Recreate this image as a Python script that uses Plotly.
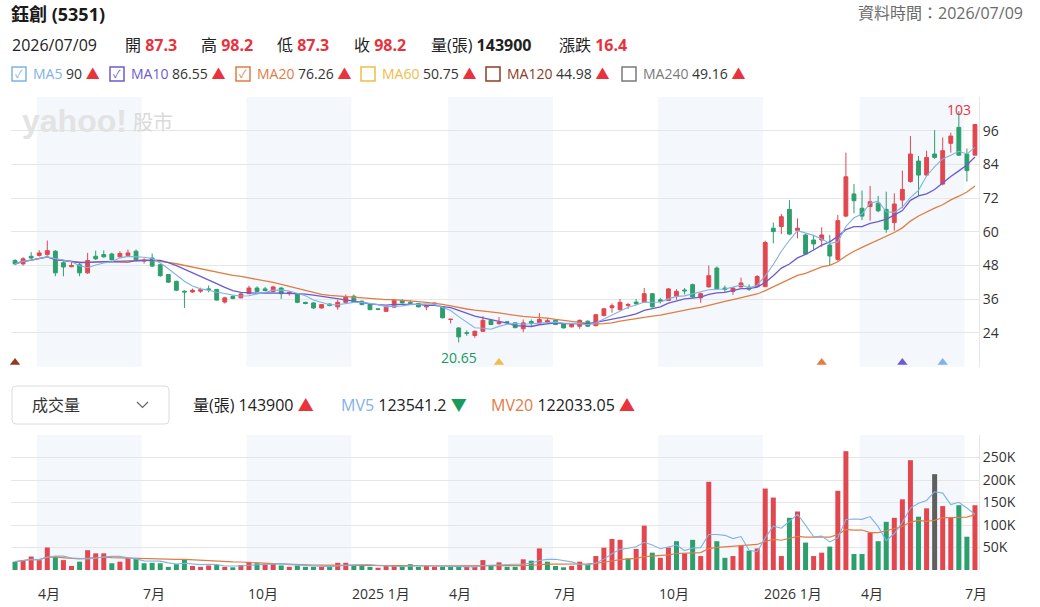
import pandas as pd
import plotly.graph_objects as go

# ---------------- data ----------------
week_end = pd.date_range("2024-03-15", "2026-07-10", freq="W-FRI")
market_closed_weeks = pd.to_datetime(["2025-01-31", "2026-02-20"])
week_end = week_end[~week_end.isin(market_closed_weeks)]

open_ = [49.8, 48.6, 51.3, 51.6, 51.9, 53.1, 49.0, 47.6, 48.3, 45.4,
         51.3, 51.9, 52.1, 51.1, 51.6, 53.1, 49.6, 50.7, 48.3, 44.8,
         42.4, 38.9, 38.6, 38.9, 39.7, 39.5, 35.0, 37.0, 36.5, 38.0,
         40.0, 39.7, 38.8, 40.0, 38.0, 38.0, 34.9, 34.7, 32.9, 34.3,
         33.3, 34.9, 37.1, 35.3, 34.1, 32.6, 31.7, 33.2, 35.5, 34.9,
         34.5, 33.3, 34.3, 33.3, 28.8, 25.8, 24.1, 23.1, 24.6, 28.5,
         27.3, 28.0, 27.6, 25.5, 28.1, 27.6, 27.8, 28.5, 27.3, 26.2,
         26.4, 28.2, 26.6, 30.2, 33.0, 32.3, 33.8, 35.0, 34.9, 38.0,
         35.8, 35.6, 37.1, 39.3, 41.2, 36.5, 40.4, 47.1, 40.0, 38.8,
         40.4, 40.3, 40.5, 40.5, 61.3, 61.9, 68.0, 60.5, 58.9, 57.1,
         57.1, 55.3, 50.2, 65.6, 73.5, 68.4, 69.0, 70.2, 68.0, 63.3,
         71.3, 77.9, 85.2, 80.2, 87.7, 77.0, 91.5, 97.2, 87.7, 87.3]
high = [50.3, 51.0, 52.8, 53.5, 56.9, 53.5, 49.5, 49.4, 49.2, 52.5,
        53.3, 53.4, 52.6, 53.1, 53.7, 53.7, 50.6, 52.3, 48.6, 45.0,
        42.6, 39.1, 39.8, 40.1, 40.9, 39.7, 36.9, 37.4, 38.2, 40.8,
        40.6, 40.4, 40.8, 40.3, 38.8, 38.2, 35.1, 35.0, 34.3, 34.6,
        35.8, 37.7, 37.7, 35.5, 34.3, 32.8, 33.4, 36.1, 36.1, 35.7,
        34.7, 33.9, 34.8, 33.5, 29.0, 26.0, 24.9, 24.9, 30.0, 28.8,
        29.7, 28.3, 27.8, 28.8, 28.8, 31.1, 29.4, 28.8, 27.5, 27.3,
        28.8, 28.5, 30.8, 32.9, 34.5, 36.1, 34.7, 36.1, 40.0, 38.2,
        36.5, 40.0, 39.6, 40.0, 41.6, 38.3, 48.0, 47.7, 40.9, 40.3,
        43.7, 41.3, 44.6, 56.9, 63.3, 66.4, 71.3, 64.8, 59.3, 58.5,
        61.6, 58.9, 66.0, 88.2, 77.0, 74.7, 76.3, 72.8, 74.3, 73.7,
        81.8, 94.1, 87.0, 88.9, 96.2, 93.6, 95.3, 103.0, 89.7, 98.2]
low = [48.2, 48.0, 50.3, 51.2, 51.5, 44.2, 44.2, 47.4, 44.2, 45.0,
       50.0, 50.8, 49.8, 50.9, 51.3, 49.9, 48.7, 47.5, 44.0, 41.8,
       38.9, 32.9, 38.3, 38.3, 38.5, 35.5, 34.5, 36.0, 36.3, 37.8,
       38.5, 38.8, 38.6, 36.1, 37.3, 34.6, 34.2, 32.6, 32.7, 33.5,
       32.3, 34.7, 34.7, 33.9, 32.1, 32.1, 31.5, 33.0, 34.5, 34.4,
       33.1, 32.1, 34.0, 29.2, 27.4, 20.65, 23.0, 22.3, 24.4, 26.8,
       27.0, 27.4, 25.7, 24.3, 26.5, 27.4, 27.5, 26.8, 25.6, 25.9,
       25.5, 26.2, 26.4, 29.9, 31.2, 32.0, 32.6, 33.9, 34.7, 33.1,
       34.5, 35.4, 35.9, 37.7, 36.6, 34.7, 40.2, 39.5, 38.5, 37.6,
       40.2, 39.0, 40.3, 40.3, 55.9, 59.2, 58.8, 57.7, 51.8, 53.6,
       54.7, 48.2, 49.6, 65.2, 66.6, 64.2, 64.0, 67.0, 59.7, 60.4,
       68.4, 77.5, 72.8, 79.8, 86.0, 76.6, 88.2, 87.0, 77.9, 87.3]
close = [48.6, 50.4, 50.7, 52.5, 53.3, 45.4, 47.5, 48.0, 45.4, 49.8,
         50.4, 51.1, 50.1, 52.3, 52.5, 50.1, 49.9, 47.8, 44.4, 42.1,
         39.2, 38.6, 39.2, 39.4, 39.5, 35.7, 36.5, 36.3, 37.9, 40.0,
         38.8, 39.1, 40.4, 38.0, 38.5, 34.9, 34.5, 32.9, 34.1, 33.8,
         34.9, 36.8, 34.9, 34.1, 32.3, 32.4, 33.2, 35.6, 34.7, 34.6,
         33.3, 33.7, 34.6, 29.4, 28.9, 22.6, 23.9, 24.6, 28.5, 27.0,
         27.8, 27.7, 25.9, 27.6, 27.5, 28.8, 28.4, 27.0, 25.8, 27.0,
         28.5, 26.4, 30.5, 32.6, 33.7, 34.9, 34.1, 34.4, 38.0, 33.3,
         35.3, 39.7, 38.8, 39.0, 36.8, 38.0, 44.4, 39.7, 39.5, 40.0,
         41.8, 39.6, 44.1, 56.2, 60.1, 65.4, 59.2, 61.3, 52.1, 55.7,
         58.9, 51.4, 64.0, 79.6, 71.1, 65.6, 70.7, 67.5, 60.9, 69.9,
         75.1, 87.7, 80.2, 86.5, 86.5, 88.9, 94.1, 87.3, 81.8, 98.2]
volume_k = [18.5, 22, 30, 22, 50, 30, 22, 9, 18.5, 44,
            37, 37, 15, 18.5, 27, 26, 15, 16, 15, 7,
            13, 24, 9, 7, 10, 11, 7, 6, 11, 18,
            15, 13, 15, 10, 7, 10, 7, 7, 7, 7,
            16, 16, 11, 11, 7, 5, 9, 9, 9, 13,
            7, 9, 7, 7, 7, 7, 7, 7, 22, 11,
            17, 7, 7, 23.7, 20.7, 48, 18.5, 9, 6, 9,
            18.5, 12.6, 31, 49.6, 69, 67, 26, 47, 98.5, 38.5,
            27, 50, 64, 37, 67, 31, 196, 64, 27, 31,
            54, 43, 48, 181, 161, 31, 116, 130, 61, 31,
            38.5, 52, 176, 264, 35.5, 35.5, 83, 64, 107, 116,
            157, 244, 118.5, 137, 213, 142, 116, 144, 74, 143.9]

# header figures shown by the page
stock_name = "鈺創 (5351)"
data_time = "資料時間：2026/07/09"
quote_date = "2026/07/09"
quote_items = [("開", "87.3"), ("高", "98.2"), ("低", "87.3"), ("收", "98.2")]
quote_volume = "143900"
quote_change = "16.4"
ma_names = ["MA5", "MA10", "MA20", "MA60", "MA120", "MA240"]
ma_values = ["90", "86.55", "76.26", "50.75", "44.98", "49.16"]
ma_checked = [True, True, True, False, False, False]
mv_names = ["量(張)", "MV5", "MV20"]
mv_values = ["143900", "123541.2", "122033.05"]
mv_up = [True, False, True]
signal_index = [0, 60, 100, 110, 115]
signal_ma = ["MA120", "MA60", "MA20", "MA10", "MA5"]
price_ticks = [12, 24, 36, 48, 60, 72, 84, 96, 108]
vol_ticks = [0, 50000, 100000, 150000, 200000, 250000, 300000]

# ---------------- styling ----------------
RED = "#e2474f"
GREEN = "#2d9f6c"
GRAYBAR = "#5f5f5f"
TXT_RED = "#e8323c"
TXT_GREEN = "#1a9b5e"
BAND = "#f4f7fb"
GRID = "#e6e6e6"
MA_COLORS = {"MA5": "#7fb3e6", "MA10": "#6b5bd2", "MA20": "#e07d45",
             "MA60": "#eebd4a", "MA120": "#8e3b22", "MA240": "#7a7a7a"}
FONT = "Open Sans, Noto Sans CJK TC, sans-serif"

W, H = 1040, 607
L, R, T, B = 11, 61, 97, 37
PW, PH = W - L - R, H - T - B


def px(x):
    return (x - L) / PW


def py(y):
    return (H - B - y) / PH


idx = list(range(len(close)))
vol = [v * 1000 for v in volume_k]
cs = pd.Series(close)
vs = pd.Series(vol)
ma = {n: cs.rolling(int(n[2:]), min_periods=1).mean() for n in ["MA5", "MA10", "MA20"]}
mv5 = vs.rolling(5, min_periods=1).mean()
mv20 = vs.rolling(20, min_periods=1).mean()

vcolors = []
for i in idx:
    if i == 0:
        vcolors.append(RED if close[i] >= open_[i] else GREEN)
    elif close[i] > close[i - 1]:
        vcolors.append(RED)
    elif close[i] < close[i - 1]:
        vcolors.append(GREEN)
    else:
        vcolors.append(GRAYBAR)

fig = go.Figure()
fig.add_trace(go.Candlestick(
    x=idx, open=open_, high=high, low=low, close=close,
    increasing=dict(line=dict(color=RED, width=1), fillcolor=RED),
    decreasing=dict(line=dict(color=GREEN, width=1), fillcolor=GREEN),
    whiskerwidth=0, xaxis="x", yaxis="y", hoverinfo="skip"))
for n, w in [("MA20", 1.3), ("MA10", 1.3), ("MA5", 1.1)]:
    fig.add_trace(go.Scatter(x=idx, y=ma[n], mode="lines",
                             line=dict(color=MA_COLORS[n], width=w),
                             xaxis="x", yaxis="y", hoverinfo="skip"))
sig_y = [price_ticks[0] + 1.5] * len(signal_index)
fig.add_trace(go.Scatter(x=signal_index, y=sig_y, mode="markers",
                         marker=dict(symbol="triangle-up", size=9,
                                     color=[MA_COLORS[m] for m in signal_ma]),
                         cliponaxis=False, xaxis="x", yaxis="y", hoverinfo="skip"))

fig.add_trace(go.Bar(x=idx, y=vol, marker=dict(color=vcolors, line=dict(width=0)),
                     width=0.62, xaxis="x2", yaxis="y2", hoverinfo="skip"))
fig.add_trace(go.Scatter(x=idx, y=mv20, mode="lines",
                         line=dict(color=MA_COLORS["MA20"], width=1.2),
                         xaxis="x2", yaxis="y2", hoverinfo="skip"))
fig.add_trace(go.Scatter(x=idx, y=mv5, mode="lines",
                         line=dict(color=MA_COLORS["MA5"], width=1.1),
                         xaxis="x2", yaxis="y2", hoverinfo="skip"))

# quarter bands and labels
starts = [i for i in idx[1:] if week_end[i].quarter != week_end[i - 1].quarter]
shapes = []
annotations = []
for k, s in enumerate(starts):
    d = week_end[s]
    lab = f"{d.year} 1月" if d.month == 1 else f"{d.month}月"
    annotations.append(dict(x=s - 0.3, xref="x2", y=py(593), yref="paper",
                            text=lab, showarrow=False, xanchor="left", yanchor="middle",
                            borderpad=0, font=dict(size=14, color="#333", family=FONT)))
    if d.month in (4, 10):
        x1 = starts[k + 1] - 0.3 if k + 1 < len(starts) else idx[-1] + 0.5
        for xr, yr in [("x", "y domain"), ("x2", "y2 domain")]:
            shapes.append(dict(type="rect", xref=xr, yref=yr, x0=s - 0.3, x1=x1, y0=0, y1=1,
                               fillcolor=BAND, line=dict(width=0), layer="below"))

# extreme labels
imax = max(idx, key=lambda i: high[i])
imin = min(idx, key=lambda i: low[i])
annotations.append(dict(x=imax, y=high[imax], xref="x", yref="y", text=f"{high[imax]:g}",
                        showarrow=False, yanchor="middle", yshift=2,
                        font=dict(size=14, color=TXT_RED, family=FONT)))
annotations.append(dict(x=imin, y=low[imin], xref="x", yref="y", text=f"{low[imin]:g}",
                        showarrow=False, yanchor="top", yshift=-4,
                        font=dict(size=14, color=TXT_GREEN, family=FONT)))

# watermark
annotations.append(dict(x=px(20), y=py(121), xref="paper", yref="paper", text="<b>yahoo!</b>",
                        showarrow=False, xanchor="left", yanchor="middle",
                        font=dict(size=32, color="#e3e3e3", family="Liberation Sans")))
annotations.append(dict(x=px(131), y=py(122), xref="paper", yref="paper", text="股市",
                        showarrow=False, xanchor="left", yanchor="middle",
                        font=dict(size=20, color="#dadada", family=FONT)))


def txt(x, y, text, size, color="#222", anchor="left"):
    annotations.append(dict(x=px(x), y=py(y), xref="paper", yref="paper", text=text,
                            showarrow=False, xanchor=anchor, yanchor="middle", borderpad=0,
                            font=dict(size=size, color=color, family=FONT)))


# header
txt(10, 14, f"<b>{stock_name}</b>", 18, "#1a1a1a")
txt(1024, 13, data_time, 16, "#6b6b6b", anchor="right")
txt(11, 45, quote_date, 16, "#222")
lab_x = [124, 200, 276, 353]
for (lab, val), x in zip(quote_items, lab_x):
    txt(x, 45, f"{lab} <b><span style='color:{TXT_RED}'>{val}</span></b>", 16, "#222")
txt(430, 45, f"量(張) <b>{quote_volume}</b>", 16, "#222")
txt(558, 45, f"漲跌 <b><span style='color:{TXT_RED}'>{quote_change}</span></b>", 16, "#222")

# MA legend row
box_x = [12, 110, 236, 361, 486, 622]
for n, v, chk, bx in zip(ma_names, ma_values, ma_checked, box_x):
    c = MA_COLORS[n]
    shapes.append(dict(type="rect", xref="paper", yref="paper",
                       x0=px(bx), x1=px(bx + 14), y0=py(81), y1=py(67),
                       line=dict(color=c, width=1.5), fillcolor="white"))
    if chk:
        txt(bx + 7, 74, "✓", 11, c, anchor="center")
    txt(bx + 20, 74, f"<span style='color:{c}'>{n}</span> {v} "
                     f"<span style='color:{TXT_RED}'>▲</span>", 14, "#333")

# volume header row
r = 4
x0, x1, y0, y1 = 12, 169, 386, 424
path = (f"M {px(x0 + r)},{py(y0)} L {px(x1 - r)},{py(y0)} Q {px(x1)},{py(y0)} {px(x1)},{py(y0 + r)} "
        f"L {px(x1)},{py(y1 - r)} Q {px(x1)},{py(y1)} {px(x1 - r)},{py(y1)} "
        f"L {px(x0 + r)},{py(y1)} Q {px(x0)},{py(y1)} {px(x0)},{py(y1 - r)} "
        f"L {px(x0)},{py(y0 + r)} Q {px(x0)},{py(y0)} {px(x0 + r)},{py(y0)} Z")
shapes.append(dict(type="path", xref="paper", yref="paper", path=path,
                   line=dict(color="#dcdcdc", width=1), fillcolor="white"))
shapes.append(dict(type="path", xref="paper", yref="paper",
                   path=f"M {px(137)},{py(402)} L {px(142.5)},{py(407.5)} L {px(148)},{py(402)}",
                   line=dict(color="#666", width=1.2)))
txt(31, 405, "成交量", 16, "#333")
mv_x = [192, 340, 490]
mv_col = ["#222", MA_COLORS["MA5"], MA_COLORS["MA20"]]
for n, v, up, x, c in zip(mv_names, mv_values, mv_up, mv_x, mv_col):
    arrow = f"<span style='color:{TXT_RED}'>▲</span>" if up else f"<span style='color:{TXT_GREEN}'>▼</span>"
    txt(x, 405, f"<span style='color:{c}'>{n}</span> {v} {arrow}", 16, "#222")

price_text = ["" if (t == price_ticks[0] or t == price_ticks[-1]) else str(t) for t in price_ticks]
vol_text = ["" if (t == vol_ticks[0] or t == vol_ticks[-1]) else f"{t // 1000}K" for t in vol_ticks]

fig.update_layout(
    width=W, height=H, margin=dict(l=L, r=R, t=T, b=B),
    paper_bgcolor="white", plot_bgcolor="white", showlegend=False,
    boxgap=0.32, bargap=0.3,
    font=dict(family=FONT, size=14, color="#333"),
    xaxis=dict(domain=[0, 1], range=[-0.5, idx[-1] + 0.5], anchor="y",
               showticklabels=False, showgrid=False, zeroline=False,
               rangeslider=dict(visible=False), fixedrange=True),
    yaxis=dict(domain=[py(366.7), 1], range=[price_ticks[0], price_ticks[-1]], side="right",
               tickvals=price_ticks, ticktext=price_text, showgrid=True, gridcolor=GRID,
               zeroline=False, showline=True, linecolor=GRID, ticks="",
               tickfont=dict(size=14, color="#333"), fixedrange=True),
    xaxis2=dict(domain=[0, 1], range=[-0.5, idx[-1] + 0.5], anchor="y2",
                showticklabels=False, showgrid=False, zeroline=False, fixedrange=True),
    yaxis2=dict(domain=[0, py(435)], range=[vol_ticks[0], vol_ticks[-1]], side="right",
                tickvals=vol_ticks, ticktext=vol_text, showgrid=True, gridcolor=GRID,
                zeroline=False, showline=True, linecolor=GRID, ticks="",
                tickfont=dict(size=14, color="#333"), fixedrange=True),
    shapes=shapes, annotations=annotations,
)

fig.write_html("out.html", config={"displayModeBar": False})
